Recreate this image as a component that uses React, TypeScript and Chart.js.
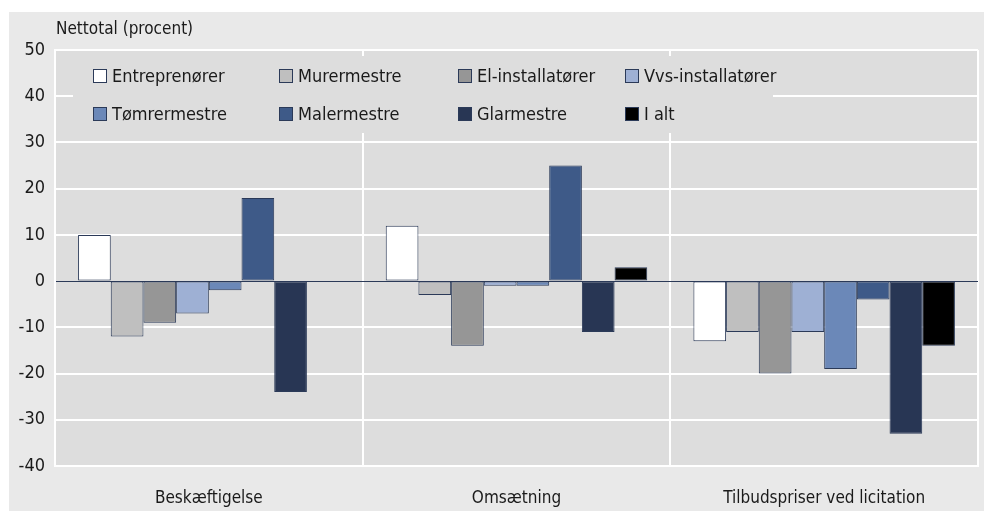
import React, { useEffect, useRef } from "react";
import { Chart, registerables } from "chart.js";
Chart.register(...registerables);

const categories = ["Beskæftigelse", "Omsætning", "Tilbudspriser ved licitation"];
const seriesNames = ["Entreprenører", "Murermestre", "El-installatører", "Vvs-installatører", "Tømrermestre", "Malermestre", "Glarmestre", "I alt"];
const entreprenoerer = [10, 12, -13];
const murermestre = [-12, -3, -11];
const elInstallatoerer = [-9, -14, -20];
const vvsInstallatoerer = [-7, -1, -11];
const toemrermestre = [-2, -1, -19];
const malermestre = [18, 25, -4];
const glarmestre = [-24, -11, -33];
const iAlt = [null, 3, -14];
const yTicks = [-40, -30, -20, -10, 0, 10, 20, 30, 40, 50];
const yTitle = "Nettotal (procent)";

const seriesValues = [entreprenoerer, murermestre, elInstallatoerer, vvsInstallatoerer, toemrermestre, malermestre, glarmestre, iAlt];
const seriesColors = ["#ffffff", "#bfbfbf", "#969696", "#9eb0d4", "#6b88b8", "#3e5a88", "#283654", "#000000"];

const FONT = '"Liberation Sans Narrow", "DejaVu Sans Condensed", "Roboto Condensed", Roboto, sans-serif';
const BORDER = "#2b3a58";
const PLOT_BG = "#dddddd";

export default function App() {
  const ref = useRef<HTMLCanvasElement>(null);
  useEffect(() => {
    if (!ref.current) return;
    const bgPlugin = {
      id: "bg",
      beforeDraw(chart: any) {
        const { ctx, chartArea: a } = chart;
        ctx.save();
        ctx.fillStyle = PLOT_BG;
        ctx.fillRect(a.left, a.top, a.right - a.left, a.bottom - a.top);
        ctx.restore();
      },
      beforeDatasetsDraw(chart: any) {
        const { ctx, chartArea: a } = chart;
        ctx.save();
        const lx = a.left + 18, ly = a.top + 6;
        ctx.fillStyle = PLOT_BG;
        ctx.fillRect(lx, ly, 700, 77);
        const colX = [38, 224, 403, 570];
        const rowY = [26, 64];
        ctx.font = "18px " + FONT;
        ctx.textBaseline = "middle";
        chart.data.datasets.forEach((ds: any, i: number) => {
          const x = a.left + colX[i % 4];
          const y = a.top + rowY[Math.floor(i / 4)];
          ctx.fillStyle = ds.backgroundColor;
          ctx.fillRect(x, y - 7, 14, 14);
          ctx.strokeStyle = BORDER;
          ctx.lineWidth = 1;
          ctx.strokeRect(x + 0.5, y - 6.5, 13, 13);
          ctx.fillStyle = "#1a1a1a";
          ctx.fillText(ds.label, x + 19, y + 1);
        });
        ctx.restore();
      },
      afterDraw(chart: any) {
        const { ctx, chartArea: a } = chart;
        ctx.save();
        ctx.font = "17px " + FONT;
        ctx.fillStyle = "#1a1a1a";
        ctx.textBaseline = "middle";
        ctx.fillText(yTitle, a.left + 1, 18);
        ctx.restore();
      },
    };
    const chart = new Chart(ref.current, {
      type: "bar",
      data: {
        labels: categories,
        datasets: seriesNames.map((name, i) => ({
          label: name,
          data: seriesValues[i],
          backgroundColor: seriesColors[i],
          borderColor: BORDER,
          borderWidth: 1,
          borderSkipped: false,
          categoryPercentage: 0.85,
          barPercentage: 1,
        })),
      },
      options: {
        animation: false,
        responsive: false,
        maintainAspectRatio: false,
        layout: { padding: { top: 38, right: 6, left: 0, bottom: 0 } },
        plugins: { legend: { display: false }, tooltip: { enabled: false } },
        scales: {
          x: {
            grid: { color: "#ffffff", lineWidth: 2, drawTicks: false, offset: true },
            border: { color: "#ffffff", width: 2 },
            ticks: { color: "#1a1a1a", font: { size: 17, family: FONT }, padding: 22 },
            afterFit(scale: any) { scale.height = 45; },
          },
          y: {
            min: -40,
            max: 50,
            afterBuildTicks(scale: any) { scale.ticks = yTicks.map((v) => ({ value: v })); },
            grid: {
              color: (c: any) => (c.tick && c.tick.value === 0 ? BORDER : "#ffffff"),
              lineWidth: (c: any) => (c.tick && c.tick.value === 0 ? 1 : 2),
              drawTicks: false,
            },
            border: { color: "#ffffff", width: 2 },
            ticks: { color: "#1a1a1a", font: { size: 18, family: FONT }, padding: 10 },
            afterFit(scale: any) { scale.width = 46; },
          },
        },
      },
      plugins: [bgPlugin],
    });
    return () => chart.destroy();
  }, []);
  return (
    <div style={{ position: "absolute", left: 0, top: 0, width: 984, height: 511, background: "#ffffff" }}>
      <div style={{ position: "absolute", left: 9, top: 12, width: 975, height: 499, background: "#e9e9e9" }}>
        <canvas ref={ref} width={975} height={499} style={{ display: "block" }} />
      </div>
    </div>
  );
}
